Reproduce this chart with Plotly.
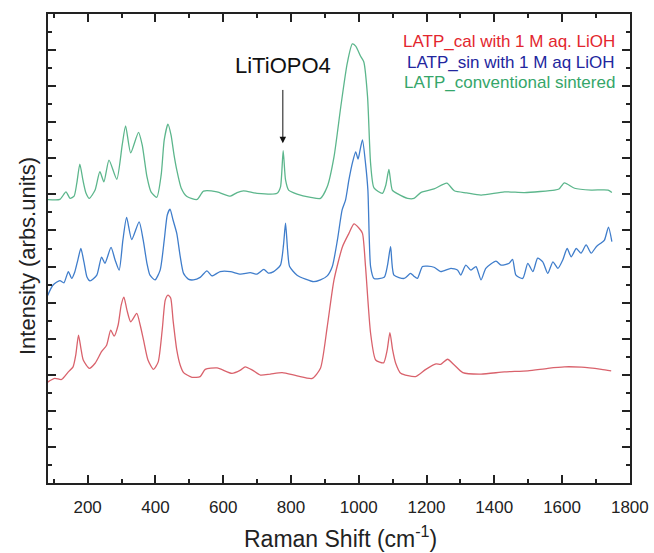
import plotly.graph_objects as go

# ---- data ----
cal_x = [79, 103, 123, 143, 157, 165, 173, 180, 187, 205, 222, 241, 256, 268, 278, 290, 299, 307, 316, 327,
         345, 355, 365, 378, 394, 408, 420, 429, 437, 445, 452, 463, 473, 483, 508, 532, 547, 582, 626, 651,
         665, 686, 710, 739, 774, 818, 863, 887, 907, 927, 952, 971, 986, 1001, 1011, 1020, 1035, 1050, 1073, 1084,
         1092, 1100, 1109, 1124, 1168, 1198, 1228, 1242, 1262, 1282, 1307, 1361, 1430, 1499, 1558, 1607, 1657, 1716, 1745]
cal_y = [2.78, 2.90, 2.87, 3.08, 3.22, 3.55, 4.10, 3.74, 3.41, 3.18, 3.32, 3.64, 3.82, 4.24, 4.07, 4.38, 4.93, 5.15, 4.79, 4.47,
         4.70, 4.38, 3.96, 3.41, 3.15, 3.35, 4.24, 5.07, 5.21, 5.13, 4.52, 3.69, 3.27, 3.06, 2.93, 2.95, 3.15, 3.19, 3.04, 3.13,
         3.22, 3.13, 2.99, 3.02, 3.06, 2.97, 2.90, 3.18, 4.33, 5.63, 6.55, 6.92, 7.18, 7.06, 6.92, 6.00, 4.15, 3.41, 3.33, 3.69,
         4.17, 3.69, 3.32, 3.04, 2.95, 3.15, 3.30, 3.29, 3.43, 3.27, 3.06, 3.02, 3.08, 3.11, 3.18, 3.22, 3.21, 3.15, 3.11]

sin_x = [80, 98, 118, 130, 143, 153, 162, 171, 180, 189, 198, 207, 227, 241, 251, 269, 281, 293, 304, 315,
         330, 352, 364, 375, 384, 399, 414, 426, 435, 443, 452, 463, 473, 483, 497, 512, 532, 552, 567, 591,
         621, 651, 680, 700, 720, 733, 749, 769, 778, 784, 790, 796, 818, 843, 867, 887, 907, 922, 937, 951,
         961, 971, 982, 991, 998, 1004, 1011, 1020, 1027, 1035, 1045, 1075, 1085, 1094, 1104, 1134, 1153, 1162, 1173, 1188,
         1203, 1222, 1242, 1272, 1292, 1301, 1316, 1331, 1346, 1361, 1375, 1405, 1420, 1444, 1454, 1464, 1484, 1499, 1514, 1528,
         1543, 1558, 1573, 1588, 1602, 1615, 1627, 1642, 1656, 1671, 1686, 1701, 1716, 1725, 1737, 1747]
sin_y = [5.16, 5.49, 5.61, 5.55, 5.86, 5.67, 5.85, 6.18, 6.50, 6.13, 5.71, 5.60, 5.76, 6.26, 6.09, 6.53, 6.18, 5.90, 6.73, 7.36,
         6.75, 7.24, 6.73, 6.09, 5.76, 5.63, 5.90, 6.73, 7.43, 7.59, 7.29, 6.92, 6.29, 5.81, 5.65, 5.63, 5.70, 5.88, 5.74, 5.86,
         5.86, 5.79, 5.83, 5.79, 5.92, 5.82, 5.86, 6.04, 6.60, 7.20, 6.46, 6.00, 5.76, 5.65, 5.58, 5.63, 5.74, 6.00, 6.73, 7.57,
         7.84, 8.40, 8.90, 9.18, 8.98, 9.23, 9.51, 8.86, 8.12, 6.00, 5.67, 5.70, 6.04, 6.55, 5.76, 5.67, 5.81, 5.74, 5.67, 6.00,
         6.01, 5.98, 5.86, 5.95, 5.90, 5.76, 6.04, 5.90, 6.00, 5.63, 5.95, 6.15, 6.04, 6.09, 6.20, 5.76, 5.67, 6.09, 5.86, 6.23,
         6.13, 5.81, 6.13, 5.95, 6.18, 6.50, 6.27, 6.50, 6.37, 6.60, 6.37, 6.55, 6.66, 6.73, 7.09, 6.69]

conv_x = [79, 118, 136, 148, 160, 168, 177, 186, 195, 205, 222, 236, 248, 263, 286, 302, 312, 327, 350, 361,
          375, 387, 404, 417, 426, 437, 446, 455, 463, 476, 493, 523, 542, 582, 621, 641, 660, 700, 759, 769,
          777, 784, 793, 818, 858, 887, 907, 927, 947, 966, 981, 991, 1006, 1015, 1026, 1035, 1045, 1070, 1080, 1089,
          1099, 1114, 1144, 1163, 1183, 1222, 1260, 1282, 1319, 1361, 1430, 1489, 1578, 1591, 1607, 1637, 1686, 1736, 1747]
conv_y = [7.86, 7.86, 8.07, 7.89, 7.95, 8.31, 8.84, 8.40, 8.04, 7.89, 8.12, 8.63, 8.35, 8.95, 8.42, 9.37, 9.90, 9.15, 9.72, 9.37,
          8.49, 8.07, 7.92, 8.54, 9.51, 9.95, 9.65, 9.09, 8.68, 8.18, 7.94, 7.86, 8.09, 8.07, 7.95, 8.05, 8.10, 8.03, 8.03, 8.20,
          9.21, 8.40, 8.12, 8.01, 7.92, 7.89, 8.21, 9.04, 10.43, 11.63, 12.17, 12.11, 11.82, 11.67, 10.71, 8.86, 8.18, 8.03, 8.26, 8.69,
          8.12, 8.02, 7.89, 7.89, 8.05, 8.15, 8.31, 8.10, 8.04, 7.98, 8.07, 8.05, 8.12, 8.15, 8.32, 8.17, 8.12, 8.12, 8.05]

series_names = ["LATP_cal with 1 M aq. LiOH", "LATP_sin with 1 M aq LiOH", "LATP_conventional sintered"]
line_colors = ["#d9626c", "#3f7dcb", "#5cb68c"]
label_colors = ["#e3262e", "#22269e", "#35a66a"]
x_ticks = [200, 400, 600, 800, 1000, 1200, 1400, 1600, 1800]

x_title = "Raman Shift (cm<sup>-1</sup>)"
y_title = "Intensity (arbs.units)"
annot_text = "LiTiOPO4"
annot_x = 776
annot_y_tip = 9.42
annot_y_text = 11.56

FONT = "Liberation Sans, Arial, sans-serif"

fig = go.Figure()
for xs, ys, name, col in zip([cal_x, sin_x, conv_x], [cal_y, sin_y, conv_y], series_names, line_colors):
    fig.add_trace(go.Scatter(x=xs, y=ys, mode="lines", name=name,
                             line=dict(color=col, width=1.3, shape="spline", smoothing=0.6),
                             showlegend=False))

# legend as coloured text
for i, (name, col) in enumerate(zip(series_names, label_colors)):
    fig.add_annotation(xref="paper", yref="paper", x=0.977, y=0.942 - i * 0.0445,
                       xanchor="right", yanchor="middle", showarrow=False,
                       text=name, font=dict(family=FONT, size=17, color=col))

# label with arrow
fig.add_annotation(x=annot_x, y=annot_y_tip, ax=annot_x, ay=annot_y_text,
                   xref="x", yref="y", axref="x", ayref="y",
                   showarrow=True, arrowhead=2, arrowsize=1.3, arrowwidth=1, arrowcolor="#111",
                   startstandoff=10, text=annot_text,
                   font=dict(family=FONT, size=22, color="#111"))

# axis titles
fig.add_annotation(xref="paper", yref="paper", x=0.502, y=-0.115, xanchor="center", yanchor="middle",
                   showarrow=False, text=x_title, font=dict(family=FONT, size=23, color="#222"))
fig.add_annotation(xref="paper", yref="paper", x=-0.036, y=0.484, xanchor="center", yanchor="middle",
                   showarrow=False, text=y_title, textangle=-90, font=dict(family=FONT, size=22, color="#222"))

axis_common = dict(showline=True, linecolor="#222", linewidth=2, mirror="allticks",
                   ticks="inside", tickcolor="#222", tickwidth=1.5, ticklen=8,
                   showgrid=False, zeroline=False, automargin=False)

fig.update_xaxes(range=[83, 1800.5], tickmode="array", tickvals=x_ticks,
                 ticktext=[str(v) for v in x_ticks],
                 minor=dict(dtick=100, tick0=0, ticks="inside", ticklen=4, tickcolor="#222", tickwidth=1.5),
                 tickfont=dict(family=FONT, size=17, color="#222"), ticklabelstandoff=8,
                 **axis_common)
fig.update_yaxes(range=[0, 13], dtick=1, tick0=0, showticklabels=False,
                 minor=dict(dtick=0.5, tick0=0, ticks="inside", ticklen=4, tickcolor="#222", tickwidth=1.5),
                 **axis_common)

fig.update_layout(width=654, height=553, margin=dict(l=48, r=24, t=14, b=70),
                  plot_bgcolor="white", paper_bgcolor="white")

fig.write_html("out.html")
